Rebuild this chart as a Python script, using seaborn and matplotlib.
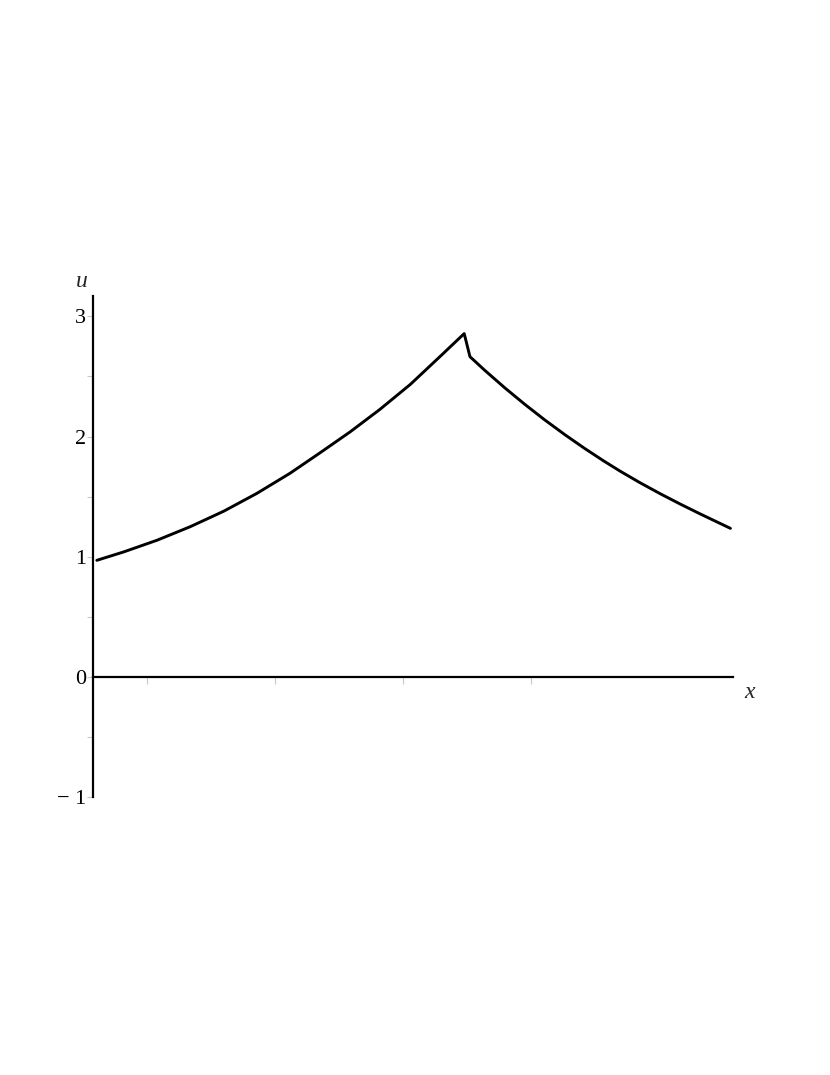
import matplotlib
matplotlib.use("Agg")
import matplotlib.pyplot as plt
import seaborn as sns
import pandas as pd

# curve values
x_vals = [0.03, 0.24, 0.50, 0.76, 1.02, 1.28, 1.54, 1.77, 2.01, 2.24, 2.48,
          2.71, 2.90, 2.945, 3.06, 3.22, 3.375, 3.53, 3.69, 3.84, 3.99, 4.12,
          4.27, 4.43, 4.59, 4.74, 4.98]
u_vals = [0.97, 1.04, 1.137, 1.250, 1.378, 1.527, 1.695, 1.862, 2.040, 2.225,
          2.435, 2.665, 2.857, 2.665, 2.552, 2.403, 2.267, 2.138, 2.013, 1.902,
          1.797, 1.711, 1.618, 1.525, 1.437, 1.358, 1.236]

x_ticks = [0.42, 1.42, 2.42, 3.42]
y_ticks = [-1, 0, 1, 2, 3]
y_tick_labels = ["\u2212 1", "0", "1", "2", "3"]
y_minor = [-0.5, 0.5, 1.5, 2.5]

df = pd.DataFrame({"x": x_vals, "u": u_vals})

sns.set_theme(style="white")
plt.rcParams["font.family"] = ["Liberation Serif", "DejaVu Serif"]

fig = plt.figure(figsize=(8.3, 10.75), dpi=100)
ax = fig.add_axes([93 / 830, (1075 - 797) / 1075, 640 / 830, (797 - 296) / 1075])

sns.lineplot(data=df, x="x", y="u", color="black", linewidth=2.1,
             estimator=None, sort=False, ax=ax)

ax.set_xlim(0, 5.0)
ax.set_ylim(-1.0, 3.17)

for side in ["top", "right"]:
    ax.spines[side].set_visible(False)
ax.spines["bottom"].set_position(("data", 0))
ax.spines["left"].set_position(("data", 0))
for side in ["bottom", "left"]:
    ax.spines[side].set_color("black")
    ax.spines[side].set_linewidth(1.6)

ax.set_xticks(x_ticks)
ax.set_xticklabels([])
ax.set_yticks(y_ticks)
ax.set_yticklabels(y_tick_labels, fontsize=16)
ax.set_yticks(y_minor, minor=True)
ax.tick_params(axis="x", which="major", direction="out", length=5, width=0.8,
               color="#c8c8c8", bottom=True)
ax.tick_params(axis="y", which="both", direction="out", length=4, width=0.8,
               color="#c8c8c8", left=True, pad=1)
ax.tick_params(axis="y", which="major", labelcolor="black")

ax.set_xlabel("")
ax.set_ylabel("")
ax.text(-0.09, 3.29, "u", fontsize=17, style="italic", ha="center", va="center")
ax.text(5.13, -0.13, "x", fontsize=17, style="italic", ha="center", va="center")

fig.savefig("out.png", dpi=100)
